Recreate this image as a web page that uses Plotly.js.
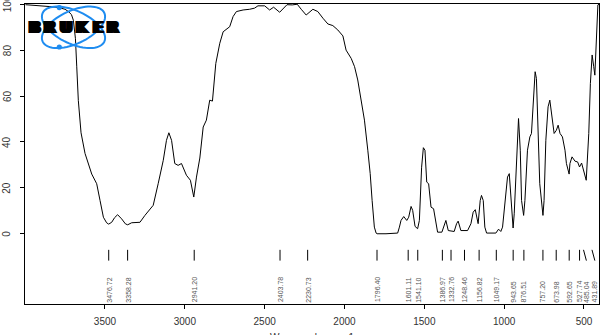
<!DOCTYPE html>
<html>
<head>
<meta charset="utf-8">
<script src="https://cdn.plot.ly/plotly-3.0.1.min.js"></script>
<style>
html,body{margin:0;padding:0;background:#fff;}
#chart{width:605px;height:335px;}
</style>
</head>
<body>
<div id="chart"></div>
<script>
// Spectrum (wavenumber cm-1, % transmittance)
var wavenumber = [3998,3958,3900,3850,3792,3750,3729,3710,3698,3690,3685,3677,3667,3650,3625,3583,3552,3531,3510,3490,3477,3458,3440,3421,3396,3372,3358,3333,3281,3250,3219,3198,3167,3135,3115,3100,3083,3063,3042,3021,2990,2965,2944,2927,2906,2885,2865,2844,2827,2806,2781,2760,2719,2698,2677,2635,2594,2563,2542,2500,2469,2444,2406,2360,2327,2296,2271,2240,2198,2167,2135,2104,2073,2042,2010,1990,1958,1937,1917,1896,1875,1854,1839,1827,1813,1802,1796,1740,1700,1667,1656,1646,1629,1610,1598,1583,1573,1558,1542,1531,1517,1506,1496,1485,1473,1458,1442,1431,1417,1390,1375,1365,1350,1313,1298,1288,1271,1229,1208,1194,1181,1173,1163,1150,1142,1131,1121,1110,1052,1035,1021,1010,993,979,968,958,944,937,922,910,899,891,878,870,854,839,829,819,806,798,787,777,757,750,739,725,714,702,687,673,662,650,635,619,610,593,588,575,556,540,528,515,502,486,470,460,449,445,439,432,428,420,413,406];
var transmittance = [99.8,99.5,99.2,99.0,98.6,97.8,96.8,95.5,93.0,89.0,85.0,73.0,58.0,44.0,35.0,26.0,21.8,14.5,7.2,4.8,4.2,5.0,7.0,8.3,6.5,4.3,3.9,4.8,5.0,8.0,10.9,12.4,21.8,32.0,40.7,44.0,40.7,30.6,29.8,30.6,25.5,23.3,16.0,24.7,33.0,46.5,49.5,58.2,57.8,74.2,83.0,88.0,90.2,94.6,96.8,97.5,97.8,98.3,99.3,99.3,97.5,98.7,96.5,99.8,99.7,100.0,97.8,95.3,97.8,96.8,93.9,91.4,90.7,88.8,86.2,80.0,76.4,72.8,67.0,58.2,49.5,36.4,26.2,14.5,2.9,0.3,0.0,0.0,0.0,0.3,2.9,5.8,7.5,5.8,7.2,11.9,10.2,3.2,2.2,5.8,29.0,37.5,36.4,22.5,21.8,11.6,10.9,5.8,0.7,0.7,4.4,5.8,1.4,1.0,4.4,5.5,1.4,1.4,4.4,9.4,10.5,7.2,4.4,14.5,16.7,14.5,2.9,0.3,0.3,2.0,1.0,2.9,14.5,24.7,26.2,14.5,2.5,8.7,29.0,50.2,36.4,14.5,8.0,14.5,36.4,42.2,43.7,58.2,70.6,67.7,43.7,21.8,8.0,14.5,40.7,55.3,58.2,52.4,43.7,45.1,47.3,43.7,42.2,36.4,30.6,26.0,30.6,33.5,31.6,31.3,29.1,30.8,27.6,23.3,43.7,65.5,77.9,74.2,72.8,69.1,75.7,91.7,99.7,100.0];

// Peak picking labels
var peakWn = [3476.72,3358.28,2941.20,2403.78,2230.73,1796.40,1601.11,1541.10,1386.97,1332.76,1248.46,1156.82,1049.17,943.65,876.51,757.20,673.98,592.65,527.74,485.04,431.89];
var peakLineTopWn = [3476.72,3358.28,2941.20,2403.78,2230.73,1796.40,1601.11,1541.10,1386.97,1332.76,1248.46,1156.82,1049.17,943.65,876.51,757.20,673.98,592.65,527.74,503,450];
var peakLabels = ["3476.72","3358.28","2941.20","2403.78","2230.73","1796.40","1601.11","1541.10","1386.97","1332.76","1248.46","1156.82","1049.17","943.65","876.51","757.20","673.98","592.65","527.74","485.04","431.89"];

var yTicks = [0,20,40,60,80,100];
var xTicks = [3500,3000,2500,2000,1500,1000,500];
var logoLetters = ["B","R","U","K","E","R"];

var W = 605, H = 335;
var M = {l:25, r:6, t:4, b:31};
var PW = W - M.l - M.r, PH = H - M.t - M.b;
function px2x(px){ return (px - M.l)/PW; }
function py2y(py){ return (H - M.b - py)/PH; }

var shapes = [];
var annotations = [];
var labelFont = 'Liberation Sans, Arial, sans-serif';

// peak marker lines
for (var i = 0; i < peakWn.length; i++) {
  shapes.push({type:'line', xref:'x', yref:'y', x0:peakLineTopWn[i], y0:-7.0, x1:peakWn[i], y1:-11.7,
    line:{color:'#000', width:1}, layer:'above'});
  annotations.push({x:peakWn[i], y:-30.4, xref:'x', yref:'y', text:peakLabels[i], showarrow:false,
    textangle:-90, xanchor:'center', yanchor:'bottom', borderpad:0,
    font:{family:labelFont, size:7, color:'#555'}});
}

// y tick labels, written vertically as in the picture
for (var m = 0; m < yTicks.length; m++) {
  annotations.push({xref:'paper', yref:'y', x:px2x(7), y:yTicks[m], text:String(yTicks[m]), showarrow:false,
    textangle:-90, xanchor:'center', yanchor:'middle', borderpad:0,
    font:{family:labelFont, size:10, color:'#333'}});
}

// Bruker logo: two orbits + dots
function ellipsePath(cx, cy, a, b, thetaDeg){
  var th = thetaDeg*Math.PI/180, d = '';
  for (var k = 0; k <= 72; k++) {
    var t = k/72*2*Math.PI;
    var ex = cx + a*Math.cos(t)*Math.cos(th) - b*Math.sin(t)*Math.sin(th);
    var ey = cy + a*Math.cos(t)*Math.sin(th) + b*Math.sin(t)*Math.cos(th);
    d += (k === 0 ? 'M' : 'L') + px2x(ex).toFixed(5) + ',' + py2y(ey).toFixed(5);
  }
  return d + 'Z';
}
var blue = '#1e8cf0';
shapes.push({type:'path', xref:'paper', yref:'paper', path:ellipsePath(73.5,27.3,34,16.5,25), line:{color:blue,width:2}, layer:'above'});
shapes.push({type:'path', xref:'paper', yref:'paper', path:ellipsePath(73.5,27.3,34,16.5,-25), line:{color:blue,width:2}, layer:'above'});
[[59.3,7.6],[59.3,47]].forEach(function(p){
  shapes.push({type:'circle', xref:'paper', yref:'paper', x0:px2x(p[0]-2.6), x1:px2x(p[0]+2.6), y0:py2y(p[1]+2.6), y1:py2y(p[1]-2.6),
    fillcolor:blue, line:{color:blue,width:0}, layer:'above'});
});
var letterX = [34,50,66,82,97.5,113];
for (var j = 0; j < logoLetters.length; j++) {
  annotations.push({xref:'paper', yref:'paper', x:px2x(letterX[j]), y:py2y(27.8), text:'<b>'+logoLetters[j]+'</b>',
    showarrow:false, xanchor:'center', yanchor:'middle', borderpad:0,
    font:{family:'DejaVu Sans, sans-serif', size:15, color:'#000',
      shadow:'1px 0 0 #000, -1px 0 0 #000, 2px 0 0 #000, -2px 0 0 #000'}});
}

// x axis title (partly cut off at the bottom, as in the picture)
annotations.push({xref:'paper', yref:'paper', x:0.5, y:py2y(330.5), text:'Wavenumber cm-1', showarrow:false,
  xanchor:'center', yanchor:'top', borderpad:0,
  font:{family:labelFont, size:10, color:'#333'}});

var trace = {x:wavenumber, y:transmittance, type:'scatter', mode:'lines',
  line:{color:'#000', width:1}, hoverinfo:'x+y'};

var layout = {
  width:W, height:H,
  margin:M,
  paper_bgcolor:'#fff', plot_bgcolor:'#fff',
  showlegend:false,
  xaxis:{range:[4001,406], tickvals:xTicks, ticktext:xTicks.map(String), ticks:'outside', ticklen:4, tickcolor:'#000',
    showline:true, linecolor:'#000', linewidth:1, mirror:true, showgrid:false, zeroline:false,
    tickfont:{family:labelFont, size:10, color:'#333'}, ticklabelstandoff:4},
  yaxis:{range:[-30.6,100.1], tickvals:yTicks, ticks:'outside', ticklen:4, tickcolor:'#000',
    showticklabels:false, showline:true, linecolor:'#000', linewidth:1, mirror:true, showgrid:false, zeroline:false},
  shapes:shapes,
  annotations:annotations
};

Plotly.newPlot('chart', [trace], layout, {displayModeBar:false, staticPlot:true});
</script>
</body>
</html>
